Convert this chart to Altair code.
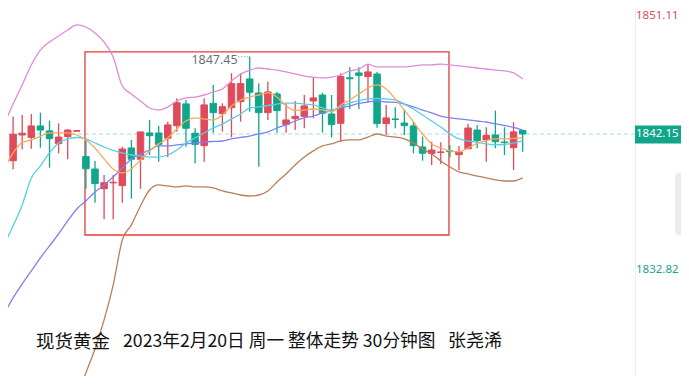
import altair as alt
import pandas as pd

# ---------------- data ----------------
idx = list(range(58))
opens = [1840.83, 1840.32, 1842.08, 1841.92, 1842.70, 1842.36, 1841.49, 1841.97, 1842.34, 1840.60,
         1839.75, 1838.40, 1838.80, 1838.61, 1841.19, 1840.42, 1842.22, 1842.22, 1841.86, 1842.72,
         1844.21, 1842.20, 1841.35, 1844.25, 1843.54, 1843.95, 1844.36, 1845.92, 1844.96, 1843.61,
         1844.89, 1842.79, 1843.20, 1843.36, 1844.41, 1844.82, 1843.52, 1842.88, 1846.00, 1846.33,
         1846.08, 1846.26, 1842.86, 1843.18, 1842.90, 1842.70, 1841.26, 1840.80, 1840.88, 1840.99,
         1840.73, 1841.14, 1842.42, 1841.74, 1842.08, 1841.60, 1841.21, 1842.40]
highs = [1841.97, 1843.34, 1843.45, 1843.52, 1843.61, 1843.06, 1842.88, 1842.47, 1842.40, 1841.86,
         1840.30, 1839.34, 1839.34, 1841.28, 1841.74, 1842.29, 1843.11, 1842.72, 1842.99, 1844.60,
         1844.48, 1842.54, 1844.60, 1845.51, 1844.25, 1846.31, 1846.31, 1847.45, 1845.62, 1845.73,
         1845.05, 1844.25, 1844.41, 1844.82, 1846.03, 1844.98, 1844.82, 1846.31, 1846.72, 1846.72,
         1846.95, 1846.42, 1844.14, 1843.98, 1843.84, 1842.99, 1841.97, 1841.62, 1841.58, 1841.40,
         1841.33, 1842.84, 1842.77, 1842.61, 1843.75, 1842.61, 1842.95, 1842.42]
lows = [1839.84, 1839.73, 1841.10, 1841.14, 1841.21, 1839.84, 1840.83, 1840.42, 1842.32, 1838.40,
        1837.44, 1836.31, 1836.31, 1837.44, 1837.72, 1838.40, 1840.71, 1840.25, 1840.55, 1842.31,
        1841.28, 1840.14, 1840.25, 1842.24, 1842.31, 1841.92, 1842.99, 1843.68, 1839.91, 1843.11,
        1842.24, 1842.24, 1842.42, 1842.54, 1843.23, 1842.24, 1841.92, 1841.62, 1843.84, 1843.84,
        1844.29, 1842.58, 1842.08, 1842.54, 1842.08, 1840.83, 1840.32, 1840.03, 1840.10, 1840.55,
        1839.68, 1841.12, 1841.17, 1840.25, 1841.17, 1840.71, 1839.68, 1840.94]
closes = [1840.25, 1842.13, 1842.20, 1842.70, 1842.42, 1841.83, 1841.94, 1842.42, 1842.38, 1839.77,
          1838.75, 1838.81, 1838.84, 1841.12, 1840.42, 1842.29, 1842.03, 1841.44, 1842.77, 1844.29,
          1842.54, 1841.44, 1844.14, 1843.61, 1844.02, 1845.60, 1845.60, 1845.01, 1843.61, 1845.03,
          1843.75, 1843.11, 1843.36, 1844.07, 1844.62, 1843.57, 1842.79, 1846.08, 1845.93, 1846.17,
          1846.40, 1842.86, 1843.25, 1843.14, 1842.72, 1841.35, 1840.83, 1841.05, 1840.92, 1840.94,
          1840.92, 1842.56, 1841.69, 1842.06, 1841.62, 1841.56, 1842.29, 1842.15]

boll_upper = [1842.84, 1844.20, 1845.51, 1846.88, 1847.90, 1848.45, 1848.86, 1849.27, 1849.62, 1849.48,
              1849.07, 1848.45, 1847.42, 1845.44, 1844.89, 1844.41, 1843.93, 1843.79, 1844.00, 1844.41,
              1844.62, 1844.68, 1844.82, 1845.03, 1845.23, 1845.78, 1846.26, 1846.53, 1846.67, 1846.60,
              1846.53, 1846.40, 1846.26, 1846.12, 1846.05, 1845.99, 1846.05, 1846.19, 1846.47, 1846.60,
              1846.94, 1846.74, 1846.74, 1846.74, 1846.74, 1846.81, 1846.88, 1846.88, 1846.94, 1846.88,
              1846.81, 1846.74, 1846.67, 1846.60, 1846.53, 1846.47, 1846.33, 1845.92]
boll_lower = [None] * 8 + [
              1824.07, 1825.78, 1827.42, 1829.41, 1831.81, 1834.89, 1835.92, 1837.22, 1838.31, 1838.66,
              1838.59, 1838.52, 1838.59, 1838.52, 1838.52, 1838.45, 1838.25, 1838.11, 1837.97, 1837.90,
              1837.97, 1838.25, 1838.86, 1839.41, 1840.03, 1840.57, 1840.99, 1841.33, 1841.47, 1841.67,
              1841.74, 1841.74, 1841.94, 1842.15, 1842.01, 1841.94, 1841.81, 1841.53, 1841.12, 1840.78,
              1840.30, 1839.89, 1839.55, 1839.41, 1839.27, 1839.14, 1839.00, 1838.93, 1838.93, 1839.14]
boll_mid = [1829.82, 1830.92, 1831.88, 1832.77, 1833.66, 1834.48, 1835.30, 1836.19, 1837.01, 1837.56,
            1838.18, 1838.66, 1839.20, 1839.82, 1840.44, 1840.78, 1841.05, 1841.33, 1841.33, 1841.40,
            1841.47, 1841.53, 1841.60, 1841.64, 1841.67, 1841.81, 1841.91, 1842.01, 1842.15, 1842.29,
            1842.56, 1842.77, 1843.04, 1843.25, 1843.38, 1843.59, 1843.76, 1843.93, 1844.07, 1844.24,
            1844.34, 1844.41, 1844.34, 1844.31, 1844.20, 1844.00, 1843.79, 1843.59, 1843.38, 1843.25,
            1843.18, 1843.11, 1843.04, 1842.97, 1842.84, 1842.73, 1842.60, 1842.42]
ma_cyan = [1834.55, 1835.85, 1837.29, 1839.14, 1839.96, 1840.85, 1841.53, 1841.81, 1841.91, 1841.81,
           1841.53, 1841.26, 1841.02, 1840.85, 1840.71, 1840.64, 1840.57, 1840.57, 1840.71, 1841.05,
           1841.53, 1841.88, 1842.22, 1842.56, 1842.84, 1843.18, 1843.52, 1843.93, 1844.00, 1844.10,
           1844.20, 1844.27, 1844.27, 1844.20, 1844.14, 1843.93, 1843.79, 1844.00, 1844.27, 1844.44,
           1844.55, 1844.58, 1844.55, 1844.48, 1844.20, 1843.86, 1843.45, 1843.04, 1842.63, 1842.15,
           1841.81, 1841.67, 1841.57, 1841.47, 1841.40, 1841.43, 1841.53, 1841.67]
ma_orange = [1839.75, 1840.85, 1841.57, 1841.74, 1841.98, 1842.22, 1842.22, 1842.22, 1842.08, 1841.74,
             1841.19, 1840.44, 1839.75, 1839.48, 1839.75, 1840.37, 1840.99, 1841.47, 1841.88, 1842.49,
             1843.04, 1843.25, 1843.18, 1843.11, 1843.45, 1844.07, 1844.48, 1844.68, 1844.82, 1844.96,
             1844.68, 1844.07, 1843.76, 1843.79, 1843.86, 1843.79, 1843.66, 1844.14, 1844.48, 1844.89,
             1845.30, 1845.51, 1845.23, 1844.55, 1843.79, 1842.97, 1842.15, 1841.47, 1841.19, 1840.99,
             1840.92, 1841.19, 1841.50, 1841.70, 1841.81, 1841.81, 1841.84, 1841.88]

axis_top_label = "1851.11"
axis_bottom_price = 1832.82
last_price = 1842.15
high_price = 1847.45
high_index = 27
box_x = [8.9, 48.9]
box_y = [1847.77, 1835.23]
title_parts = ["现货黄金", "2023年2月20日 周一 整体走势 30分钟图", "张尧浠"]

# ---------------- styles ----------------
RED = "#df4b5b"
GREEN = "#10a68a"
W, H = 673, 368
LBL_X = 628
LBL_FS = 11.5
xs = alt.Scale(domain=[0.44, 74.4], nice=False, zero=False, padding=0)
ys = alt.Scale(domain=[1825.57, 1850.78], nice=False, zero=False, padding=0)
X = alt.X("i:Q", scale=xs, axis=None)

candles = pd.DataFrame({"i": idx, "open": opens, "high": highs, "low": lows, "close": closes})
up = "datum.close >= datum.open"

wicks = alt.Chart(candles).mark_rule(strokeWidth=1.3, clip=True).encode(
    x=X, y=alt.Y("low:Q", scale=ys, axis=None), y2="high:Q",
    color=alt.condition(up, alt.value(RED), alt.value(GREEN)))
bodies = alt.Chart(candles).mark_bar(size=6.5, strokeWidth=1, clip=True).encode(
    x=X, y=alt.Y("open:Q", scale=ys, axis=None), y2="close:Q",
    color=alt.condition(up, alt.value(RED), alt.value(GREEN)),
    stroke=alt.condition(up, alt.value(RED), alt.value(GREEN)))


def line(vals, color, width=1.3):
    df = pd.DataFrame({"i": idx, "v": vals}).dropna()
    return alt.Chart(df).mark_line(color=color, strokeWidth=width, interpolate="monotone",
                                   clip=True).encode(x=X, y=alt.Y("v:Q", scale=ys, axis=None))


lines = [line(boll_upper, "#e08ad8"), line(boll_lower, "#b97f58"), line(boll_mid, "#7d80f3"),
         line(ma_cyan, "#55cfe6"), line(ma_orange, "#f9aa60")]

box = alt.Chart(pd.DataFrame({"x1": [box_x[0]], "x2": [box_x[1]], "y1": [box_y[0]], "y2": [box_y[1]]})).mark_rect(
    fillOpacity=0, stroke="#e83a3a", strokeWidth=1.3).encode(
    x=alt.X("x1:Q", scale=xs, axis=None), x2="x2:Q", y=alt.Y("y1:Q", scale=ys, axis=None), y2="y2:Q")

pdf = pd.DataFrame({"p": [last_price], "t": [f"{last_price:.2f}"]})
dash = alt.Chart(pdf).mark_rule(strokeDash=[4, 3], color="#9fe0d5", strokeWidth=1).encode(
    y=alt.Y("p:Q", scale=ys, axis=None), x=alt.value(0), x2=alt.value(627))
sep = alt.Chart(pdf).mark_rule(color="#eeeeee", strokeWidth=1).encode(
    x=alt.value(627.5), y=alt.value(0), y2=alt.value(H))
label_box = alt.Chart(pdf).mark_rect(color=GREEN).encode(
    x=alt.value(627), x2=alt.value(W), y=alt.value(117.5), y2=alt.value(135.5))
label_txt = alt.Chart(pdf).mark_text(align="left", baseline="middle", color="white", fontSize=LBL_FS,
                                     font="Noto Sans").encode(
    x=alt.value(LBL_X), y=alt.Y("p:Q", scale=ys, axis=None), text="t:N")

top_lbl = alt.Chart(pd.DataFrame({"t": [axis_top_label]})).mark_text(
    align="left", baseline="middle", color=RED, fontSize=LBL_FS, font="Noto Sans").encode(
    x=alt.value(LBL_X), y=alt.value(8), text="t:N")
bot_lbl = alt.Chart(pd.DataFrame({"p": [axis_bottom_price], "t": [f"{axis_bottom_price:.2f}"]})).mark_text(
    align="left", baseline="middle", color="#1aa58b", fontSize=LBL_FS, font="Noto Sans").encode(
    x=alt.value(LBL_X), y=alt.Y("p:Q", scale=ys, axis=None), text="t:N")

scroll_btn = alt.Chart(pdf).mark_rect(color="#ececf0", cornerRadius=4).encode(
    x=alt.value(667), x2=alt.value(690), y=alt.value(165), y2=alt.value(227))

hdf = pd.DataFrame({"i": [high_index], "i0": [high_index - 1.25], "p": [high_price], "t": [f"{high_price:.2f}"]})
high_txt = alt.Chart(hdf).mark_text(align="right", baseline="middle", dx=-12, dy=3, color="#6e7079",
                                    fontSize=12.5, font="Noto Sans").encode(
    x=X, y=alt.Y("p:Q", scale=ys, axis=None), text="t:N")
high_lead = alt.Chart(hdf).mark_rule(strokeDash=[1, 2], color="#8a8d96", strokeWidth=1).encode(
    x=alt.X("i0:Q", scale=xs, axis=None), x2="i:Q", y=alt.Y("p:Q", scale=ys, axis=None))

tdf = pd.DataFrame({"t": title_parts})
title_layers = []
for k, (xpos, fs) in enumerate([(28, 18.5), (115, 17.7), (440, 18)]):
    title_layers.append(
        alt.Chart(tdf).transform_filter(f"datum.t == '{title_parts[k]}'").mark_text(
            align="left", baseline="middle", color="#111111", fontSize=fs,
            font="Noto Sans CJK SC").encode(x=alt.value(xpos), y=alt.value(334), text="t:N"))

chart = alt.layer(
    sep, dash, box, wicks, bodies, *lines, high_lead, high_txt,
    label_box, label_txt, top_lbl, bot_lbl, scroll_btn, *title_layers
).properties(
    width=W, height=H, padding=0, autosize=alt.AutoSizeParams(type="none"), background="white"
).configure_view(stroke=None)

chart.save("out.html", embed_options={"renderer": "svg", "actions": False})
